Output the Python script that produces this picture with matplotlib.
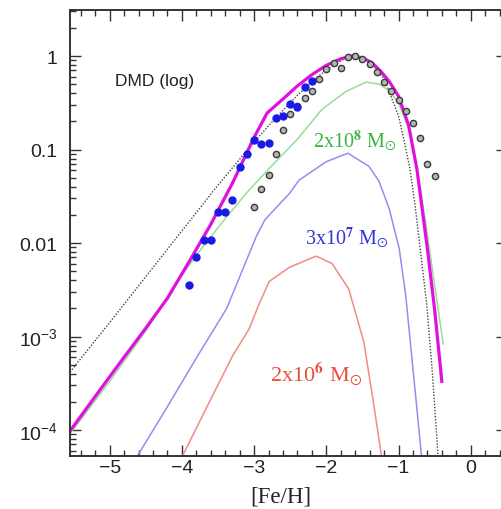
import numpy as np
import matplotlib
matplotlib.use("Agg")
import matplotlib.pyplot as plt
from matplotlib.ticker import MultipleLocator, LogLocator, NullFormatter

# ---- DATA (log10 of the distribution, read per [Fe/H]) ----
# total model (all galaxies summed)
feh_total = [-5.55, -5.2, -4.8, -4.5, -4.2, -3.9, -3.6, -3.3, -3.0, -2.82, -2.6, -2.4,
             -2.2, -2.0, -1.8, -1.65, -1.5, -1.37, -1.25, -1.13, -1.0, -0.86, -0.745,
             -0.6, -0.5, -0.4]
log_total = [-4.01, -3.64, -3.22, -2.91, -2.59, -2.20, -1.80, -1.36, -0.87, -0.61, -0.46, -0.32,
             -0.20, -0.10, -0.03, 0.0, -0.02, -0.07, -0.16, -0.27, -0.43, -0.74, -1.21,
             -2.06, -2.71, -3.48]

# closed box reference model
feh_box = [-5.55, -5.0, -4.5, -4.0, -3.5, -3.0, -2.7, -2.4, -2.1, -1.9, -1.75, -1.6,
           -1.4, -1.2, -1.0, -0.93, -0.84, -0.77, -0.70, -0.61, -0.53, -0.45]
log_box = [-3.38, -2.85, -2.36, -1.87, -1.38, -0.92, -0.66, -0.42, -0.21, -0.10, -0.03, 0.0,
           -0.06, -0.24, -0.64, -0.88, -1.21, -1.60, -2.06, -2.65, -3.40, -4.30]

# 2x10^8 Msun component
feh_m8 = [-5.55, -5.0, -4.5, -4.0, -3.7, -3.4, -3.1, -2.8, -2.4, -2.06, -1.73, -1.45,
          -1.27, -1.13, -1.0, -0.86, -0.75, -0.62, -0.5, -0.38]
log_m8 = [-4.04, -3.48, -2.94, -2.34, -2.03, -1.74, -1.46, -1.21, -0.89, -0.57, -0.38, -0.28,
          -0.30, -0.37, -0.50, -0.78, -1.18, -1.80, -2.45, -3.08]

# 3x10^7 Msun component
feh_m7 = [-4.65, -4.2, -3.8, -3.38, -2.97, -2.85, -2.51, -2.38, -2.0, -1.70, -1.41, -1.27,
          -1.13, -0.99, -0.90, -0.79, -0.68]
log_m7 = [-4.32, -3.75, -3.23, -2.70, -1.93, -1.75, -1.47, -1.33, -1.13, -1.04, -1.18, -1.34,
          -1.63, -2.06, -2.56, -3.42, -4.29]

# 2x10^6 Msun component
feh_m6 = [-4.0, -3.6, -3.3, -3.07, -2.93, -2.79, -2.51, -2.14, -1.92, -1.69, -1.48, -1.34, -1.23]
log_m6 = [-4.29, -3.67, -3.21, -2.92, -2.65, -2.41, -2.26, -2.14, -2.22, -2.49, -3.06, -3.74, -4.31]

# observed points: blue sample and grey sample
feh_blue = [-3.9, -3.8, -3.7, -3.6, -3.5, -3.4, -3.3, -3.2, -3.1, -3.0, -2.9, -2.8,
            -2.7, -2.6, -2.5, -2.4, -2.3, -2.2]
log_blue = [-2.45, -2.15, -1.97, -1.97, -1.67, -1.67, -1.54, -1.19, -1.05, -0.90, -0.94, -0.93,
            -0.66, -0.64, -0.51, -0.55, -0.33, -0.27]

feh_grey = [-3.0, -2.9, -2.8, -2.7, -2.6, -2.5, -2.4, -2.3, -2.2, -2.1, -2.0, -1.9, -1.8,
            -1.7, -1.6, -1.5, -1.4, -1.3, -1.2, -1.1, -1.0, -0.9, -0.8, -0.7, -0.6, -0.5]
log_grey = [-1.62, -1.42, -1.27, -1.05, -0.79, -0.62, -0.53, -0.45, -0.37, -0.25, -0.14, -0.08, -0.13,
            -0.01, 0.0, -0.03, -0.09, -0.17, -0.28, -0.37, -0.47, -0.59, -0.72, -0.88, -1.16, -1.28]

ytick_vals = [1, 0.1, 0.01, 1e-3, 1e-4]
ytick_labels = ["1", "0.1", "0.01", r"$\mathregular{10^{-3}}$", r"$\mathregular{10^{-4}}$"]
xtick_vals = [-5, -4, -3, -2, -1, 0]


def lin(v):
    return 10 ** np.asarray(v)


plt.rcParams["font.family"] = ["Liberation Sans", "DejaVu Sans"]
plt.rcParams["mathtext.fontset"] = "stix"

fig = plt.figure(figsize=(5.02, 5.10), dpi=100)
ax = fig.add_axes([70 / 502, 53 / 510, 436.8 / 502, 446 / 510])

# model curves
ax.plot(feh_box, lin(log_box), color="#444444", lw=1.0, ls=(0, (1, 1.2)))
ax.plot(feh_m6, lin(log_m6), color="#f08c80", lw=1.1)
ax.plot(feh_m7, lin(log_m7), color="#8f8ff2", lw=1.1)
ax.plot(feh_m8, lin(log_m8), color="#98dc98", lw=1.1)
ax.plot(feh_total, lin(log_total), color="#e010e0", lw=2.3)

# data points
ax.plot(feh_grey, lin(log_grey), "o", ms=4.5, mfc="#b4b4b4", mec="#3a3a3a", mew=1.0)
ax.plot(feh_blue, lin(log_blue), "o", ms=5.0, mfc="#1a1ae6", mec="#1a1ae6")

ax.set_yscale("log")
ax.set_xlim(-5.55, 0.5)
ax.set_ylim(10 ** -4.278, 10 ** 0.492)

ax.set_xticks(xtick_vals)
ax.xaxis.set_minor_locator(MultipleLocator(0.2))
ax.set_yticks(ytick_vals)
ax.set_yticklabels(ytick_labels)
ax.yaxis.set_minor_locator(LogLocator(base=10, subs=np.arange(2, 10)))
ax.yaxis.set_minor_formatter(NullFormatter())

ax.tick_params(which="both", direction="in", top=True, right=True, width=1.0,
               colors="#333333", labelcolor="#222222")
ax.tick_params(which="major", length=8, labelsize=14)
ax.tick_params(which="minor", length=4)
ax.tick_params(axis="x", pad=2)
ax.tick_params(axis="y", pad=9)
for sp in ax.spines.values():
    sp.set_linewidth(1.4)
    sp.set_color("#333333")

# labels
ax.text(0.483, -0.09, "[Fe/H]", transform=ax.transAxes, ha="center", va="center",
        fontsize=16.5, family="Liberation Serif", color="#222222")
ax.text(-4.93, 10 ** -0.31, "DMD (log)", fontsize=12.5, color="#222222", va="baseline")
ax.text(-2.19, 10 ** -0.963, r"2x10$^{\mathbf{8}}$ M$_{\odot}$", fontsize=14.5,
        family="Liberation Serif", color="#3cb43c", va="baseline")
ax.text(-2.30, 10 ** -2.0, r"3x10$^{\mathbf{7}}$ M$_{\odot}$", fontsize=14.5,
        family="Liberation Serif", color="#3434d8", va="baseline")
ax.text(-2.78, 10 ** -3.476, r"2x10$^{\mathbf{6}}$ M$_{\odot}$", fontsize=16,
        family="Liberation Serif", color="#e8503c", va="baseline")

fig.savefig("out.png", dpi=100)
